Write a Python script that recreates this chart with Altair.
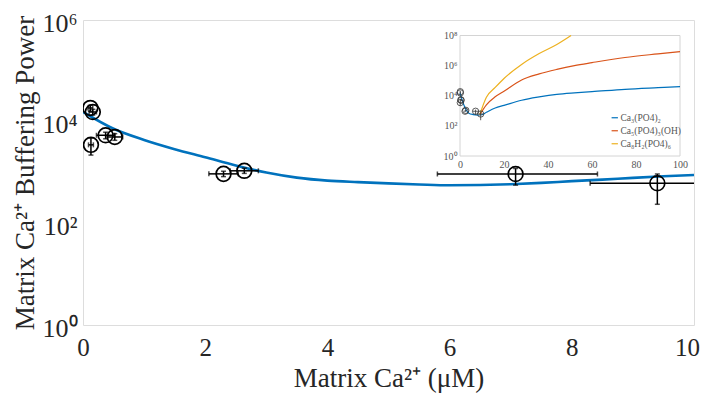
import altair as alt
import pandas as pd

FONT = "Liberation Serif"

# ---------------- main panel data ----------------
curve_x = [0, 0.5, 1, 1.5, 2, 2.5, 3, 3.5, 4, 4.5, 5, 5.5, 6, 6.5, 7, 7.5, 8, 8.5, 9, 9.5, 10]
curve_y = [15500, 7240, 4370, 2880, 2000, 1380, 1000, 794, 692, 646, 610, 582, 562, 569,
           589, 624, 676, 724, 785, 841, 891]

pt_x = [0.12, 0.16, 0.13, 0.37, 0.52, 2.30, 2.64, 7.08, 9.40]
pt_y = [18600, 15500, 3500, 5400, 5000, 940, 1080, 935, 615]
pt_xlo = [0.08, 0.10, 0.09, 0.22, 0.40, 2.06, 2.41, 5.80, 8.30]
pt_xhi = [0.16, 0.22, 0.17, 0.52, 0.65, 2.54, 2.87, 8.42, 10.50]
pt_ylo = [16000, 13500, 2200, 4600, 4300, 830, 960, 565, 237]
pt_yhi = [21000, 17500, 4800, 6200, 5800, 1060, 1220, 1200, 935]

x_ticks = [0, 2, 4, 6, 8, 10]
y_ticks = [1, 100, 10000, 1000000]
x_domain = [0, 10]
y_domain = [1, 1000000]

# ---------------- inset data ----------------
blue_x = [0, 2, 4, 6, 8, 10, 12, 16, 20, 28, 36, 44, 52, 60, 75, 90, 100]
blue_y = [15500, 2000, 692, 562, 525, 550, 794, 1550, 2290, 5010, 8320, 12300, 15500,
          18600, 26900, 34700, 40700]
red_x = [9, 12, 16, 20, 28, 36, 44, 52, 60, 75, 90, 100]
red_y = [562, 2510, 8510, 20000, 112000, 282000, 562000, 1000000, 1580000, 3470000,
         6030000, 8510000]
orange_x = [9, 12, 16, 20, 28, 36, 44, 50.5]
orange_y = [562, 7940, 35500, 141000, 1200000, 6310000, 25100000, 100000000]

series_names = ["Ca₃(PO4)₂", "Ca₅(PO4)₃(OH)", "Ca₈H₂(PO4)₆"]
series_colors = ["#0072BD", "#D95319", "#EDB120"]

inset_x_ticks = [0, 20, 40, 60, 80, 100]
inset_y_ticks = [1, 100, 10000, 1000000, 100000000]
inset_x_domain = [0, 100]
inset_y_domain = [1, 100000000]

# ---------------- tables ----------------
curve_df = pd.DataFrame({"x": curve_x, "y": curve_y})
pts_df = pd.DataFrame({"x": pt_x, "y": pt_y, "xlo": pt_xlo, "xhi": pt_xhi,
                       "ylo": pt_ylo, "yhi": pt_yhi})
hcap_df = pd.DataFrame({"x": pt_xlo + pt_xhi, "y": pt_y + pt_y})
vcap_df = pd.DataFrame({"x": pt_x + pt_x, "y": pt_ylo + pt_yhi})

inset_df = pd.concat([
    pd.DataFrame({"x": blue_x, "y": blue_y, "series": series_names[0]}),
    pd.DataFrame({"x": red_x, "y": red_y, "series": series_names[1]}),
    pd.DataFrame({"x": orange_x, "y": orange_y, "series": series_names[2]}),
])
inset_box_df = pd.DataFrame({"x0": [inset_x_domain[0]], "x1": [inset_x_domain[1]],
                             "y0": [inset_y_domain[0]], "y1": [inset_y_domain[1]]})

sup_expr = ("'10' + substring('⁰¹²³⁴⁵⁶⁷⁸⁹', round(log(datum.value)/LN10), "
            "round(log(datum.value)/LN10) + 1)")

# ---------------- main panel ----------------
xs = alt.Scale(domain=x_domain, nice=False, zero=False)
ys = alt.Scale(type="log", domain=y_domain, nice=False)

x_axis = alt.Axis(values=x_ticks, title="Matrix Ca²⁺ (μM)", format="d",
                  labelFont=FONT, titleFont=FONT, labelFontSize=25, titleFontSize=27,
                  titleFontWeight="normal", labelColor="#262626", titleColor="#262626",
                  ticks=False, domain=False, grid=False, labelPadding=10, titlePadding=5,
                  labelFlush=False,
                  labelOffset={"condition": {"test": "datum.value == 10", "value": -7},
                               "value": 0})
y_axis = alt.Axis(values=y_ticks, title="Matrix Ca²⁺ Buffering Power", labelExpr=sup_expr,
                  labelFont=FONT, titleFont=FONT, labelFontSize=26, titleFontSize=27,
                  titleFontWeight="normal", labelColor="#262626", titleColor="#262626",
                  ticks=False, domain=False, grid=False, labelPadding=6, titlePadding=2,
                  labelOverlap=False, labelOffset=3)

main_curve = alt.Chart(curve_df).mark_line(color="#0072BD", strokeWidth=2.6,
                                           interpolate="monotone", clip=True).encode(
    x=alt.X("x:Q", scale=xs, axis=x_axis), y=alt.Y("y:Q", scale=ys, axis=y_axis))

h_err = alt.Chart(pts_df).mark_rule(color="black", strokeWidth=1.5, clip=True).encode(
    x=alt.X("xlo:Q", scale=xs, axis=x_axis), x2="xhi:Q",
    y=alt.Y("y:Q", scale=ys, axis=y_axis))
v_err = alt.Chart(pts_df).mark_rule(color="black", strokeWidth=1.5, clip=True).encode(
    x=alt.X("x:Q", scale=xs, axis=x_axis),
    y=alt.Y("ylo:Q", scale=ys, axis=y_axis), y2="yhi:Q")
h_caps = alt.Chart(hcap_df).mark_tick(color="black", orient="vertical", size=5,
                                      thickness=1.5, clip=True).encode(
    x=alt.X("x:Q", scale=xs, axis=x_axis), y=alt.Y("y:Q", scale=ys, axis=y_axis))
v_caps = alt.Chart(vcap_df).mark_tick(color="black", orient="horizontal", size=5,
                                      thickness=1.5, clip=True).encode(
    x=alt.X("x:Q", scale=xs, axis=x_axis), y=alt.Y("y:Q", scale=ys, axis=y_axis))
circles = alt.Chart(pts_df).mark_point(shape="circle", filled=False, size=220,
                                       color="black", strokeWidth=1.7, opacity=1,
                                       clip=True).encode(
    x=alt.X("x:Q", scale=xs, axis=x_axis), y=alt.Y("y:Q", scale=ys, axis=y_axis))

main = alt.layer(main_curve, h_err, v_err, h_caps, v_caps, circles)

# ---------------- inset ----------------
isx = alt.Scale(domain=inset_x_domain, range=[377, 597], nice=False, zero=False)
isy = alt.Scale(type="log", domain=inset_y_domain, range=[136, 15.5], nice=False)

ix_axis = alt.Axis(orient="bottom", offset=-169, values=inset_x_ticks, title=None,
                   labelFont=FONT, labelFontSize=10, labelColor="#555555",
                   ticks=False, domain=False, grid=False, labelPadding=3,
                   labelFlush=False, format="d")
iy_axis = alt.Axis(orient="left", offset=-377, values=inset_y_ticks, title=None,
                   labelExpr=sup_expr, labelFont=FONT, labelFontSize=10,
                   labelColor="#555555", ticks=False, domain=False, grid=False,
                   labelPadding=3, labelOverlap=False)

inset_box = alt.Chart(inset_box_df).mark_rect(fill="white", stroke="#d4d4d4",
                                              strokeWidth=1).encode(
    x=alt.X("x0:Q", scale=isx, axis=ix_axis), x2="x1:Q",
    y=alt.Y("y0:Q", scale=isy, axis=iy_axis), y2="y1:Q")

inset_lines = alt.Chart(inset_df).mark_line(strokeWidth=1.2, interpolate="monotone").encode(
    x=alt.X("x:Q", scale=isx, axis=ix_axis),
    y=alt.Y("y:Q", scale=isy, axis=iy_axis),
    color=alt.Color("series:N", sort=series_names,
                    scale=alt.Scale(domain=series_names, range=series_colors),
                    legend=alt.Legend(orient="none", legendX=527, legendY=93, title=None,
                                      symbolType="stroke", symbolSize=40,
                                      symbolStrokeWidth=1.2, labelFont=FONT,
                                      labelFontSize=9.5, labelColor="#555555",
                                      rowPadding=2, padding=0, labelOffset=1)),
    order=alt.Order("x:Q"))

i_herr = alt.Chart(pts_df).mark_rule(color="#333333", strokeWidth=0.8).encode(
    x=alt.X("xlo:Q", scale=isx, axis=ix_axis), x2="xhi:Q",
    y=alt.Y("y:Q", scale=isy, axis=iy_axis))
i_verr = alt.Chart(pts_df).mark_rule(color="#333333", strokeWidth=0.8).encode(
    x=alt.X("x:Q", scale=isx, axis=ix_axis),
    y=alt.Y("ylo:Q", scale=isy, axis=iy_axis), y2="yhi:Q")
i_circles = alt.Chart(pts_df).mark_point(shape="circle", filled=False, size=40,
                                         color="#333333", strokeWidth=0.8,
                                         opacity=1).encode(
    x=alt.X("x:Q", scale=isx, axis=ix_axis), y=alt.Y("y:Q", scale=isy, axis=iy_axis))

inset = alt.layer(inset_box, inset_lines, i_herr, i_verr, i_circles)

chart = alt.layer(main, inset).resolve_scale(
    x="independent", y="independent"
).properties(
    width=611, height=305,
    padding={"left": 75, "top": 12, "right": 6, "bottom": 70},
    autosize=alt.AutoSizeParams(type="none"),
).configure_view(stroke="#d4d4d4", strokeWidth=1).configure(background="white")

chart.save("out.html", embed_options={"renderer": "svg", "actions": False})
